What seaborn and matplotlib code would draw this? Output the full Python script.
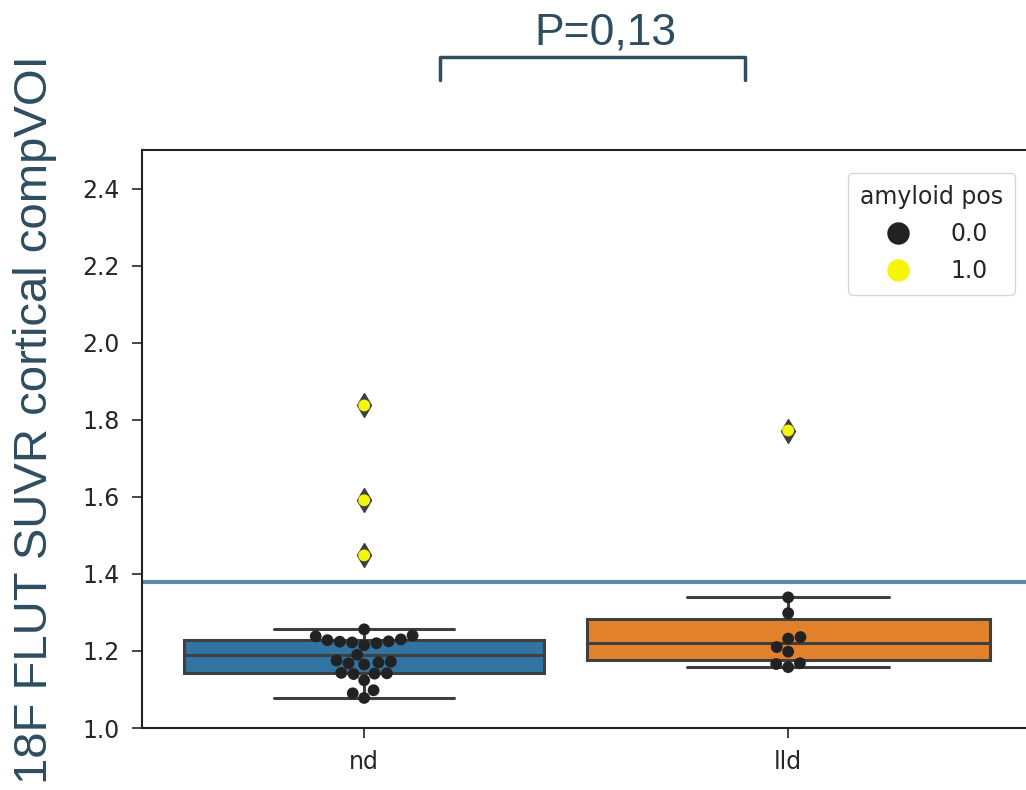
import matplotlib
matplotlib.use("Agg")
import matplotlib.pyplot as plt
from matplotlib.lines import Line2D
import seaborn as sns
import pandas as pd
import numpy as np

# ---- data ----
categories = ["nd", "lld"]
nd_values = [1.078, 1.09, 1.098, 1.124, 1.14, 1.141, 1.142, 1.143, 1.165, 1.168, 1.17, 1.172, 1.175,
             1.19, 1.215, 1.22, 1.222, 1.224, 1.225, 1.228, 1.23, 1.238, 1.24, 1.256,
             1.448, 1.591, 1.837]
nd_amyloid = [0.0] * 24 + [1.0] * 3
lld_values = [1.158, 1.166, 1.168, 1.198, 1.21, 1.232, 1.236, 1.298, 1.339, 1.772]
lld_amyloid = [0.0] * 9 + [1.0]
threshold = 1.38
y_ticks = [1.0, 1.2, 1.4, 1.6, 1.8, 2.0, 2.2, 2.4]
p_label = "P=0,13"
y_label = "18F FLUT SUVR cortical compVOI"

df = pd.DataFrame({
    "group": ["nd"] * len(nd_values) + ["lld"] * len(lld_values),
    "value": nd_values + lld_values,
    "amyloid pos": nd_amyloid + lld_amyloid,
})

sns.set_style("ticks")
plt.rcParams["font.family"] = ["DejaVu Sans"]

fig = plt.figure(figsize=(10.26, 7.90), dpi=100)
ax = fig.add_axes([142 / 1026, 62 / 790, (1029 - 142) / 1026, 578 / 790])

box_colors = {"nd": "#1f77b4", "lld": "#ff7f0e"}
box_widths = {"nd": 0.85, "lld": 0.95}
for cat in categories:
    sub = df[df["group"] == cat]
    sns.boxplot(data=sub, x="group", y="value", order=categories, color=box_colors[cat],
                width=box_widths[cat], linewidth=2.2, ax=ax, linecolor="#3f3f3f",
                flierprops={"marker": "d", "markersize": 12, "markerfacecolor": "#3f3f3f",
                            "markeredgecolor": "#3f3f3f"})

sns.swarmplot(data=df, x="group", y="value", hue="amyloid pos", order=categories,
              hue_order=[0.0, 1.0], palette={0.0: "#222222", 1.0: "#f5f50a"},
              size=8.5, ax=ax)

ax.axhline(threshold, color="#5b8ba3", lw=3, zorder=1)

ax.set_ylim(1.0, 2.5)
ax.set_xlim(-0.524, 1.568)
ax.set_yticks(y_ticks)
ax.set_yticklabels([f"{t:.1f}" for t in y_ticks])
ax.set_xlabel("")
ax.set_ylabel("")
ax.tick_params(labelsize=17, length=7, width=1.2, colors="#262626", pad=9)
for s in ax.spines.values():
    s.set_linewidth(1.5)
    s.set_color("#222222")

h, l = ax.get_legend_handles_labels()
leg = ax.legend(h, ["0.0", "1.0"], title="amyloid pos", loc="upper right",
                fontsize=17, title_fontsize=17, markerscale=1.9, labelspacing=0.55,
                handletextpad=1.2, borderpad=0.5,
                bbox_to_anchor=(0.997, 0.98), frameon=True)

fig.text(35 / 1026, 1 - 420 / 790, y_label, rotation=90, ha="center", va="center",
         fontsize=34, color="#2e4d5f", family=["Liberation Sans"])
fig.text(605 / 1026, 1 - 45 / 790, p_label, ha="center", va="baseline",
         fontsize=32, color="#2e4d5f", family=["Liberation Sans"])
fig.add_artist(Line2D([440 / 1026, 440 / 1026, 745 / 1026, 745 / 1026],
                      [1 - 80 / 790, 1 - 57 / 790, 1 - 57 / 790, 1 - 80 / 790],
                      transform=fig.transFigure, color="#2e4d5f", lw=2.5))

fig.savefig("out.png", dpi=100)
